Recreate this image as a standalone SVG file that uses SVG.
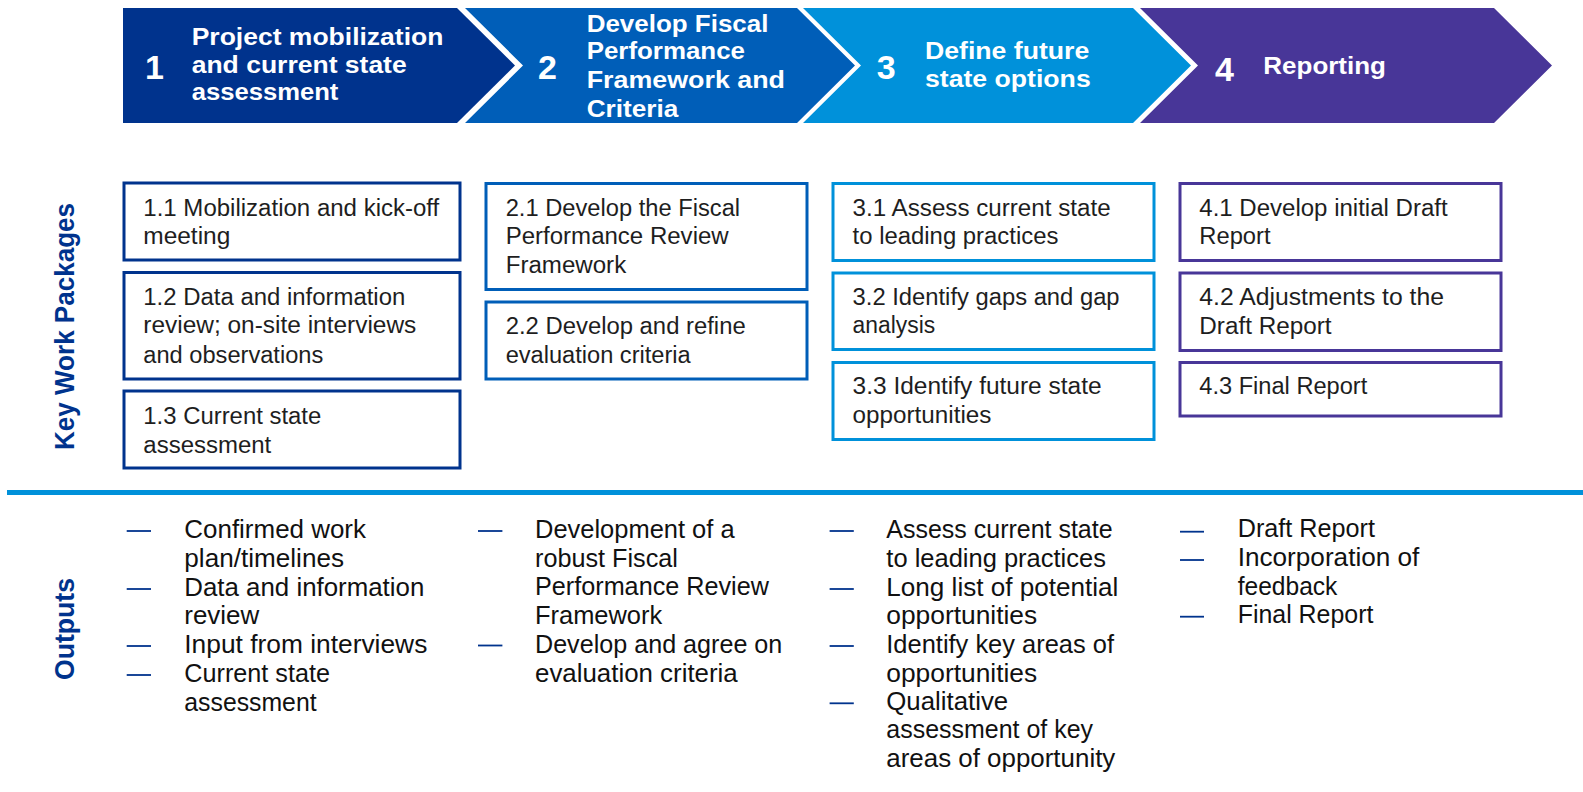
<svg xmlns="http://www.w3.org/2000/svg" width="1583" height="792" viewBox="0 0 1583 792">
  <style>
    .phase-num { font-family: "Liberation Sans", Arial, sans-serif; font-weight: bold; font-size: 34px; fill: #ffffff; }
    .phase-title { font-family: "Liberation Sans", Arial, sans-serif; font-weight: bold; font-size: 23.5px; fill: #ffffff; }
    .side-label { font-family: "Liberation Sans", Arial, sans-serif; font-weight: bold; font-size: 27px; fill: #00338D; }
    .wp-box { fill: #ffffff; stroke-width: 3; }
    .wp-text { font-family: "Liberation Sans", Arial, sans-serif; font-size: 23.5px; fill: #1e1e1e; }
    .out-text { font-family: "Liberation Sans", Arial, sans-serif; font-size: 25px; fill: #111111; }
    .dash { stroke: #00338D; stroke-width: 1.8; }
    .c1 { stroke: #00338D; }
    .c2 { stroke: #005EB8; }
    .c3 { stroke: #0091DA; }
    .c4 { stroke: #483698; }
  </style>

  <rect width="1583" height="792" fill="#ffffff"/>

  <!-- Phase chevrons -->
  <g id="phase-1">
    <polygon points="123,8 457,8 515,65.5 457,123 123,123" fill="#00338D"/>
    <text class="phase-num" x="145" y="79">1</text>
    <text class="phase-title" x="191.7" y="45" textLength="251.7" lengthAdjust="spacingAndGlyphs">Project mobilization</text>
    <text class="phase-title" x="191.7" y="72.7" textLength="215" lengthAdjust="spacingAndGlyphs">and current state</text>
    <text class="phase-title" x="191.7" y="100" textLength="146.7" lengthAdjust="spacingAndGlyphs">assessment</text>
  </g>
  <g id="phase-2">
    <polygon points="465,8 797,8 855,65.5 797,123 465,123 523,65.5" fill="#005EB8"/>
    <text class="phase-num" x="538" y="79">2</text>
    <text class="phase-title" x="586.7" y="31.7" textLength="181.7" lengthAdjust="spacingAndGlyphs">Develop Fiscal</text>
    <text class="phase-title" x="586.7" y="59.3" textLength="158.3" lengthAdjust="spacingAndGlyphs">Performance</text>
    <text class="phase-title" x="586.7" y="88.3" textLength="198.3" lengthAdjust="spacingAndGlyphs">Framework and</text>
    <text class="phase-title" x="586.7" y="116.7" textLength="91.7" lengthAdjust="spacingAndGlyphs">Criteria</text>
  </g>
  <g id="phase-3">
    <polygon points="803,8 1133,8 1191,65.5 1133,123 803,123 861,65.5" fill="#0091DA"/>
    <text class="phase-num" x="876.7" y="79">3</text>
    <text class="phase-title" x="925" y="59.3" textLength="164.3" lengthAdjust="spacingAndGlyphs">Define future</text>
    <text class="phase-title" x="925" y="86.7" textLength="165.7" lengthAdjust="spacingAndGlyphs">state options</text>
  </g>
  <g id="phase-4">
    <polygon points="1140,8 1494,8 1552,65.5 1494,123 1140,123 1198,65.5" fill="#483698"/>
    <text class="phase-num" x="1215" y="81">4</text>
    <text class="phase-title" x="1263.3" y="73.5" textLength="122.7" lengthAdjust="spacingAndGlyphs">Reporting</text>
  </g>

  <!-- Row labels -->
  <g id="label-work-packages">
    <text class="side-label" transform="translate(74,326.5) rotate(-90)" text-anchor="middle" textLength="247" lengthAdjust="spacingAndGlyphs">Key Work Packages</text>
  </g>
  <g id="label-outputs">
    <text class="side-label" transform="translate(74,629) rotate(-90)" text-anchor="middle" textLength="102" lengthAdjust="spacingAndGlyphs">Outputs</text>
  </g>

  <!-- Work packages, phase 1 -->
  <g id="wp-1-1">
    <rect class="wp-box c1" x="124" y="183" width="336" height="77"/>
    <text class="wp-text" x="143.3" y="215.7" textLength="296" lengthAdjust="spacingAndGlyphs">1.1 Mobilization and kick-off</text>
    <text class="wp-text" x="143.3" y="244" textLength="87" lengthAdjust="spacingAndGlyphs">meeting</text>
  </g>
  <g id="wp-1-2">
    <rect class="wp-box c1" x="124" y="272.5" width="336" height="106.5"/>
    <text class="wp-text" x="143.3" y="305" textLength="262" lengthAdjust="spacingAndGlyphs">1.2 Data and information</text>
    <text class="wp-text" x="143.3" y="333.3" textLength="273" lengthAdjust="spacingAndGlyphs">review; on-site interviews</text>
    <text class="wp-text" x="143.3" y="362.7" textLength="180" lengthAdjust="spacingAndGlyphs">and observations</text>
  </g>
  <g id="wp-1-3">
    <rect class="wp-box c1" x="124" y="391" width="336" height="77"/>
    <text class="wp-text" x="143.3" y="424" textLength="178" lengthAdjust="spacingAndGlyphs">1.3 Current state</text>
    <text class="wp-text" x="143.3" y="452.7" textLength="128" lengthAdjust="spacingAndGlyphs">assessment</text>
  </g>

  <!-- Work packages, phase 2 -->
  <g id="wp-2-1">
    <rect class="wp-box c2" x="486" y="183.5" width="321" height="106"/>
    <text class="wp-text" x="505.7" y="215.7" textLength="234.4" lengthAdjust="spacingAndGlyphs">2.1 Develop the Fiscal</text>
    <text class="wp-text" x="505.7" y="244" textLength="223" lengthAdjust="spacingAndGlyphs">Performance Review</text>
    <text class="wp-text" x="505.7" y="273.3" textLength="120.5" lengthAdjust="spacingAndGlyphs">Framework</text>
  </g>
  <g id="wp-2-2">
    <rect class="wp-box c2" x="486" y="302" width="321" height="77"/>
    <text class="wp-text" x="505.7" y="334.3" textLength="240" lengthAdjust="spacingAndGlyphs">2.2 Develop and refine</text>
    <text class="wp-text" x="505.7" y="362.7" textLength="185" lengthAdjust="spacingAndGlyphs">evaluation criteria</text>
  </g>

  <!-- Work packages, phase 3 -->
  <g id="wp-3-1">
    <rect class="wp-box c3" x="833" y="183.5" width="321" height="77"/>
    <text class="wp-text" x="852.6" y="215.7" textLength="258" lengthAdjust="spacingAndGlyphs">3.1 Assess current state</text>
    <text class="wp-text" x="852.6" y="244" textLength="205.8" lengthAdjust="spacingAndGlyphs">to leading practices</text>
  </g>
  <g id="wp-3-2">
    <rect class="wp-box c3" x="833" y="273" width="321" height="76.5"/>
    <text class="wp-text" x="852.6" y="305" textLength="267" lengthAdjust="spacingAndGlyphs">3.2 Identify gaps and gap</text>
    <text class="wp-text" x="852.6" y="333.3" textLength="82.6" lengthAdjust="spacingAndGlyphs">analysis</text>
  </g>
  <g id="wp-3-3">
    <rect class="wp-box c3" x="833" y="362.5" width="321" height="77"/>
    <text class="wp-text" x="852.6" y="394" textLength="249" lengthAdjust="spacingAndGlyphs">3.3 Identify future state</text>
    <text class="wp-text" x="852.6" y="422.7" textLength="138.8" lengthAdjust="spacingAndGlyphs">opportunities</text>
  </g>

  <!-- Work packages, phase 4 -->
  <g id="wp-4-1">
    <rect class="wp-box c4" x="1180" y="183.5" width="321" height="77"/>
    <text class="wp-text" x="1199.3" y="215.7" textLength="248.3" lengthAdjust="spacingAndGlyphs">4.1 Develop initial Draft</text>
    <text class="wp-text" x="1199.3" y="244" textLength="71.3" lengthAdjust="spacingAndGlyphs">Report</text>
  </g>
  <g id="wp-4-2">
    <rect class="wp-box c4" x="1180" y="273" width="321" height="77.5"/>
    <text class="wp-text" x="1199.3" y="305" textLength="244.7" lengthAdjust="spacingAndGlyphs">4.2 Adjustments to the</text>
    <text class="wp-text" x="1199.3" y="334.3" textLength="132.3" lengthAdjust="spacingAndGlyphs">Draft Report</text>
  </g>
  <g id="wp-4-3">
    <rect class="wp-box c4" x="1180" y="362.5" width="321" height="53.5"/>
    <text class="wp-text" x="1199.3" y="394" textLength="168" lengthAdjust="spacingAndGlyphs">4.3 Final Report</text>
  </g>

  <!-- Divider between work packages and outputs -->
  <g id="divider">
    <rect x="7" y="490" width="1576" height="5" fill="#0091DA"/>
  </g>

  <!-- Outputs, phase 1 -->
  <g id="outputs-1">
    <line class="dash" x1="126.7" y1="531" x2="151" y2="531"/>
    <line class="dash" x1="126.7" y1="589" x2="151" y2="589"/>
    <line class="dash" x1="126.7" y1="646" x2="151" y2="646"/>
    <line class="dash" x1="126.7" y1="675" x2="151" y2="675"/>
    <text class="out-text" x="184.3" y="537.7" textLength="181.7" lengthAdjust="spacingAndGlyphs">Confirmed work</text>
    <text class="out-text" x="184.3" y="566.7" textLength="159.7" lengthAdjust="spacingAndGlyphs">plan/timelines</text>
    <text class="out-text" x="184.3" y="595.7" textLength="240" lengthAdjust="spacingAndGlyphs">Data and information</text>
    <text class="out-text" x="184.3" y="624" textLength="75" lengthAdjust="spacingAndGlyphs">review</text>
    <text class="out-text" x="184.3" y="652.7" textLength="243" lengthAdjust="spacingAndGlyphs">Input from interviews</text>
    <text class="out-text" x="184.3" y="681.7" textLength="145.7" lengthAdjust="spacingAndGlyphs">Current state</text>
    <text class="out-text" x="184.3" y="710.7" textLength="132.3" lengthAdjust="spacingAndGlyphs">assessment</text>
  </g>

  <!-- Outputs, phase 2 -->
  <g id="outputs-2">
    <line class="dash" x1="478" y1="531" x2="502.4" y2="531"/>
    <line class="dash" x1="478" y1="645.5" x2="502.4" y2="645.5"/>
    <text class="out-text" x="535" y="538" textLength="199.6" lengthAdjust="spacingAndGlyphs">Development of a</text>
    <text class="out-text" x="535" y="566.7" textLength="142.9" lengthAdjust="spacingAndGlyphs">robust Fiscal</text>
    <text class="out-text" x="535" y="595.3" textLength="233.9" lengthAdjust="spacingAndGlyphs">Performance Review</text>
    <text class="out-text" x="535" y="623.7" textLength="127.2" lengthAdjust="spacingAndGlyphs">Framework</text>
    <text class="out-text" x="535" y="652.7" textLength="247.3" lengthAdjust="spacingAndGlyphs">Develop and agree on</text>
    <text class="out-text" x="535" y="681.7" textLength="202.7" lengthAdjust="spacingAndGlyphs">evaluation criteria</text>
  </g>

  <!-- Outputs, phase 3 -->
  <g id="outputs-3">
    <line class="dash" x1="829.6" y1="531" x2="853.8" y2="531"/>
    <line class="dash" x1="829.6" y1="589" x2="853.8" y2="589"/>
    <line class="dash" x1="829.6" y1="646" x2="853.8" y2="646"/>
    <line class="dash" x1="829.6" y1="703.3" x2="853.8" y2="703.3"/>
    <text class="out-text" x="886.3" y="538" textLength="226.3" lengthAdjust="spacingAndGlyphs">Assess current state</text>
    <text class="out-text" x="886.3" y="566.7" textLength="219.6" lengthAdjust="spacingAndGlyphs">to leading practices</text>
    <text class="out-text" x="886.3" y="595.7" textLength="232.1" lengthAdjust="spacingAndGlyphs">Long list of potential</text>
    <text class="out-text" x="886.3" y="624" textLength="150.9" lengthAdjust="spacingAndGlyphs">opportunities</text>
    <text class="out-text" x="886.3" y="652.7" textLength="227.7" lengthAdjust="spacingAndGlyphs">Identify key areas of</text>
    <text class="out-text" x="886.3" y="681.7" textLength="150.9" lengthAdjust="spacingAndGlyphs">opportunities</text>
    <text class="out-text" x="886.3" y="710" textLength="121.9" lengthAdjust="spacingAndGlyphs">Qualitative</text>
    <text class="out-text" x="886.3" y="738.3" textLength="206.7" lengthAdjust="spacingAndGlyphs">assessment of key</text>
    <text class="out-text" x="886.3" y="766.7" textLength="229" lengthAdjust="spacingAndGlyphs">areas of opportunity</text>
  </g>

  <!-- Outputs, phase 4 -->
  <g id="outputs-4">
    <line class="dash" x1="1180" y1="531.7" x2="1204" y2="531.7"/>
    <line class="dash" x1="1180" y1="560" x2="1204" y2="560"/>
    <line class="dash" x1="1180" y1="616.7" x2="1204" y2="616.7"/>
    <text class="out-text" x="1237.7" y="537.3" textLength="137.3" lengthAdjust="spacingAndGlyphs">Draft Report</text>
    <text class="out-text" x="1237.7" y="566" textLength="181.7" lengthAdjust="spacingAndGlyphs">Incorporation of</text>
    <text class="out-text" x="1237.7" y="595" textLength="99.7" lengthAdjust="spacingAndGlyphs">feedback</text>
    <text class="out-text" x="1237.7" y="623.3" textLength="135.7" lengthAdjust="spacingAndGlyphs">Final Report</text>
  </g>
</svg>
